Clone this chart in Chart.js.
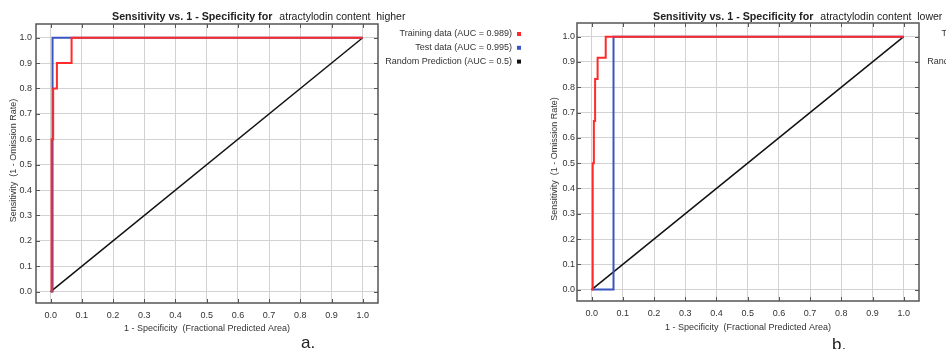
<!DOCTYPE html>
<html>
<head>
<meta charset="utf-8">
<script src="https://cdn.jsdelivr.net/npm/chart.js@4"></script>
<style>
  body { margin: 0; background: #fff; width: 946px; height: 349px; overflow: hidden; position: relative; }
  canvas { position: absolute; top: 0; }
  #chartA { left: 0; }
  #chartB { left: 540px; }
</style>
</head>
<body>
<canvas id="chartA" width="540" height="349"></canvas>
<canvas id="chartB" width="406" height="349"></canvas>
<script>
// ticks de ambos ejes
var xTicks = [0.0, 0.1, 0.2, 0.3, 0.4, 0.5, 0.6, 0.7, 0.8, 0.9, 1.0];
var yTicks = [0.0, 0.1, 0.2, 0.3, 0.4, 0.5, 0.6, 0.7, 0.8, 0.9, 1.0];

// a. atractylodin content higher
var trainA_x = [0, 0.003, 0.003, 0.008, 0.008, 0.020, 0.020, 0.067, 0.067, 1.0];
var trainA_y = [0, 0.0, 0.6, 0.6, 0.8, 0.8, 0.9, 0.9, 1.0, 1.0];
var testA_x = [0, 0.006, 0.006, 1.0];
var testA_y = [0, 0.0, 1.0, 1.0];

// b. atractylodin content lower
var trainB_x = [0, 0.002, 0.002, 0.004, 0.004, 0.007, 0.007, 0.011, 0.011, 0.019, 0.019, 0.045, 0.045, 1.0];
var trainB_y = [0, 0.0, 0.167, 0.167, 0.5, 0.5, 0.667, 0.667, 0.833, 0.833, 0.917, 0.917, 1.0, 1.0];
var testB_x = [0, 0.07, 0.07, 1.0];
var testB_y = [0, 0.0, 1.0, 1.0];

// prediccion aleatoria
var randX = [0, 1];
var randY = [0, 1];

var legendA = ["Training data (AUC = 0.989)", "Test data (AUC = 0.995)", "Random Prediction (AUC = 0.5)"];
var legendB = ["Training data (AUC = 0.990)", "Test data (AUC = 0.930)", "Random Prediction (AUC = 0.5)"];
var colores = ["#ff2a2a", "#3a55bf", "#111111"];

var FONT = "'Liberation Sans', Arial, sans-serif";

function puntos(xs, ys) {
  var arr = [];
  for (var i = 0; i < xs.length; i++) {
    arr.push({ x: xs[i], y: ys[i] });
  }
  return arr;
}

function crearGrafica(id, cfg) {
  var canvas = document.getElementById(id);
  var W = canvas.width, H = canvas.height;

  var marco = {
    id: "marco",
    afterDraw: function (chart) {
      var ctx = chart.ctx;
      var a = chart.chartArea;
      var sx = chart.scales.x, sy = chart.scales.y;
      ctx.save();
      // marcas hacia adentro
      ctx.strokeStyle = "#555";
      ctx.lineWidth = 1;
      ctx.beginPath();
      xTicks.forEach(function (v) {
        var px = Math.round(sx.getPixelForValue(v)) + 0.5;
        ctx.moveTo(px, a.top); ctx.lineTo(px, a.top + 4);
        ctx.moveTo(px, a.bottom); ctx.lineTo(px, a.bottom - 4);
      });
      yTicks.forEach(function (v) {
        var py = Math.round(sy.getPixelForValue(v)) + 0.5;
        ctx.moveTo(a.left, py); ctx.lineTo(a.left + 4, py);
        ctx.moveTo(a.right, py); ctx.lineTo(a.right - 4, py);
      });
      ctx.stroke();
      // marco
      ctx.lineWidth = 1.5;
      ctx.strokeStyle = "#555";
      ctx.strokeRect(a.left, a.top, a.right - a.left, a.bottom - a.top);

      // titulo
      ctx.fillStyle = "#222";
      ctx.textBaseline = "alphabetic";
      ctx.textAlign = "left";
      ctx.font = "bold 10.7px " + FONT;
      var tx = a.left + 76;
      ctx.fillText("Sensitivity vs. 1 - Specificity for", tx, 19.5);
      var wb = ctx.measureText("Sensitivity vs. 1 - Specificity for").width;
      ctx.font = "10.5px " + FONT;
      ctx.fillText(cfg.subtitulo, tx + wb + 7, 19.5);

      // titulos de ejes
      ctx.font = "9px " + FONT;
      ctx.fillStyle = "#333";
      ctx.textAlign = "center";
      ctx.textBaseline = "middle";
      ctx.fillText("1 - Specificity  (Fractional Predicted Area)", (a.left + a.right) / 2, cfg.xTituloY);
      ctx.save();
      ctx.translate(a.left - 22, (a.top + a.bottom) / 2 - 3);
      ctx.rotate(-Math.PI / 2);
      ctx.fillText("Sensitivity  (1 - Omission Rate)", 0, 0);
      ctx.restore();

      // leyenda
      ctx.textAlign = "right";
      for (var i = 0; i < cfg.leyenda.length; i++) {
        var ly = 34 + i * 13.8;
        ctx.fillStyle = "#333";
        ctx.fillText(cfg.leyenda[i], cfg.leyendaX, ly);
        ctx.fillStyle = colores[i];
        ctx.fillRect(cfg.leyendaX + 5, ly - 2, 4, 4);
      }

      // etiqueta a. / b.
      ctx.textAlign = "left";
      ctx.textBaseline = "alphabetic";
      ctx.fillStyle = "#222";
      ctx.font = "17px " + FONT;
      ctx.fillText(cfg.letra, cfg.letraX, cfg.letraY);
      ctx.restore();
    }
  };

  return new Chart(canvas, {
    type: "line",
    data: {
      datasets: [
        { label: cfg.leyenda[0], data: puntos(cfg.trainX, cfg.trainY), borderColor: colores[0], borderWidth: 2 },
        { label: cfg.leyenda[1], data: puntos(cfg.testX, cfg.testY), borderColor: colores[1], borderWidth: 2 },
        { label: cfg.leyenda[2], data: puntos(randX, randY), borderColor: colores[2], borderWidth: 1.5 }
      ]
    },
    options: {
      responsive: false,
      animation: false,
      devicePixelRatio: 1,
      elements: { point: { radius: 0 }, line: { tension: 0, fill: false } },
      layout: { padding: { left: 0, top: cfg.top, right: W - cfg.right, bottom: 0 } },
      plugins: { legend: { display: false }, tooltip: { enabled: false }, title: { display: false } },
      scales: {
        x: {
          type: "linear",
          min: -0.047, max: 1.049,
          afterBuildTicks: function (s) { s.ticks = xTicks.map(function (v) { return { value: v }; }); },
          afterFit: function (s) { s.height = H - cfg.bottom; },
          grid: { color: "#d2d2d2", lineWidth: 1, drawTicks: false },
          border: { display: false },
          ticks: {
            autoSkip: false, maxRotation: 0, padding: cfg.xPad, color: "#333",
            font: { family: FONT, size: 9 },
            callback: function (v) { return Number(v).toFixed(1); }
          }
        },
        y: {
          type: "linear",
          min: -0.045, max: 1.054,
          afterBuildTicks: function (s) { s.ticks = yTicks.map(function (v) { return { value: v }; }); },
          afterFit: function (s) { s.width = cfg.left; },
          grid: { color: "#d2d2d2", lineWidth: 1, drawTicks: false },
          border: { display: false },
          ticks: {
            autoSkip: false, padding: cfg.yPad, color: "#333",
            font: { family: FONT, size: 9 },
            callback: function (v) { return Number(v).toFixed(1); }
          }
        }
      }
    },
    plugins: [marco]
  });
}

crearGrafica("chartA", {
  left: 36, right: 378, top: 24, bottom: 303,
  trainX: trainA_x, trainY: trainA_y, testX: testA_x, testY: testA_y,
  subtitulo: "atractylodin content  higher",
  leyenda: legendA, leyendaX: 512,
  xPad: 7, yPad: 4, xTituloY: 329,
  letra: "a.", letraX: 301, letraY: 348
});

crearGrafica("chartB", {
  left: 37, right: 379, top: 23, bottom: 301,
  trainX: trainB_x, trainY: trainB_y, testX: testB_x, testY: testB_y,
  subtitulo: "atractylodin content  lower",
  leyenda: legendB, leyendaX: 514,
  xPad: 7, yPad: 2, xTituloY: 327.5,
  letra: "b.", letraX: 292, letraY: 350
});
</script>
</body>
</html>
